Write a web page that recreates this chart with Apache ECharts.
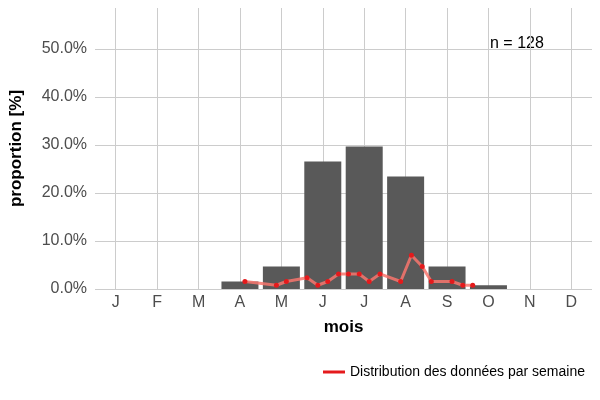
<!DOCTYPE html><html><head><meta charset="utf-8"><script src="https://cdn.jsdelivr.net/npm/echarts@6/dist/echarts.min.js"></script></head><body style="margin:0"><div id="c" style="width:600px;height:400px"></div><script>
const months=['J','F','M','A','M','J','J','A','S','O','N','D'];
const monthPct=[0,0,0,1.56,4.69,26.56,29.69,23.44,4.69,0.78,0,0];
const weekPos=[4.12,4.88,5.12,5.62,5.88,6.12,6.38,6.62,6.88,7.12,7.38,7.88,8.14,8.4,8.62,9.12,9.38,9.62];
const weekPct=[1.56,0.78,1.56,2.34,0.78,1.56,3.13,3.13,3.13,1.56,3.13,1.56,7.03,4.69,1.56,1.56,0.78,0.78];
const yTicks=[0,10,20,30,40,50];
const ch=echarts.init(document.getElementById('c'));
const monthIdx=months.map((m,i)=>i+1);
ch.setOption({
 grid:{left:90,right:8,top:8,bottom:111},
 xAxis:{type:'value',min:0.5,max:12.5,name:'mois',nameLocation:'middle',nameGap:30,
  nameTextStyle:{fontSize:17,fontWeight:'bold',color:'#000',fontFamily:'Liberation Sans'},
  axisLine:{show:false},axisTick:{show:false},splitLine:{show:false},
  axisLabel:{customValues:monthIdx,fontSize:16,color:'#4d4d4d',fontFamily:'Liberation Sans',margin:6,
   formatter:v=>months[Math.round(v)-1]}},
 yAxis:{type:'value',min:0,max:58.5,name:'proportion [%]',nameLocation:'middle',nameGap:70,
  nameTextStyle:{fontSize:17,fontWeight:'bold',color:'#000',fontFamily:'Liberation Sans'},
  axisLine:{show:false},axisTick:{show:false},splitLine:{show:false},
  axisLabel:{customValues:yTicks,fontSize:16,color:'#4d4d4d',fontFamily:'Liberation Sans',formatter:v=>v.toFixed(1)+'%'}},
 legend:{right:10,bottom:16,itemWidth:22,itemHeight:3,icon:'rect',textStyle:{fontSize:14,color:'#000',fontFamily:'Liberation Sans'},data:['Distribution des données par semaine']},
 graphic:[{type:'text',left:490,top:36,style:{text:'n = 128',fontSize:16,fill:'#000',fontFamily:'Liberation Sans'}}],
 series:[
  {type:'bar',barWidth:37,itemStyle:{color:'#595959'},data:monthPct.map((v,i)=>[i+1,v]),silent:true,
   markLine:{silent:true,symbol:'none',label:{show:false},lineStyle:{color:'#cccccc',width:1,type:'solid'},z:0,
    data:monthIdx.map(v=>({xAxis:v})).concat(yTicks.map(v=>({yAxis:v})))}},
  {name:'Distribution des données par semaine',type:'line',data:weekPos.map((p,i)=>[p,weekPct[i]]),
   color:'#f8766d',lineStyle:{color:'#f8766d',width:3,opacity:0.85},itemStyle:{color:'#e41a1c'},symbol:'circle',symbolSize:5,z:5}
 ]});
</script></body></html>
